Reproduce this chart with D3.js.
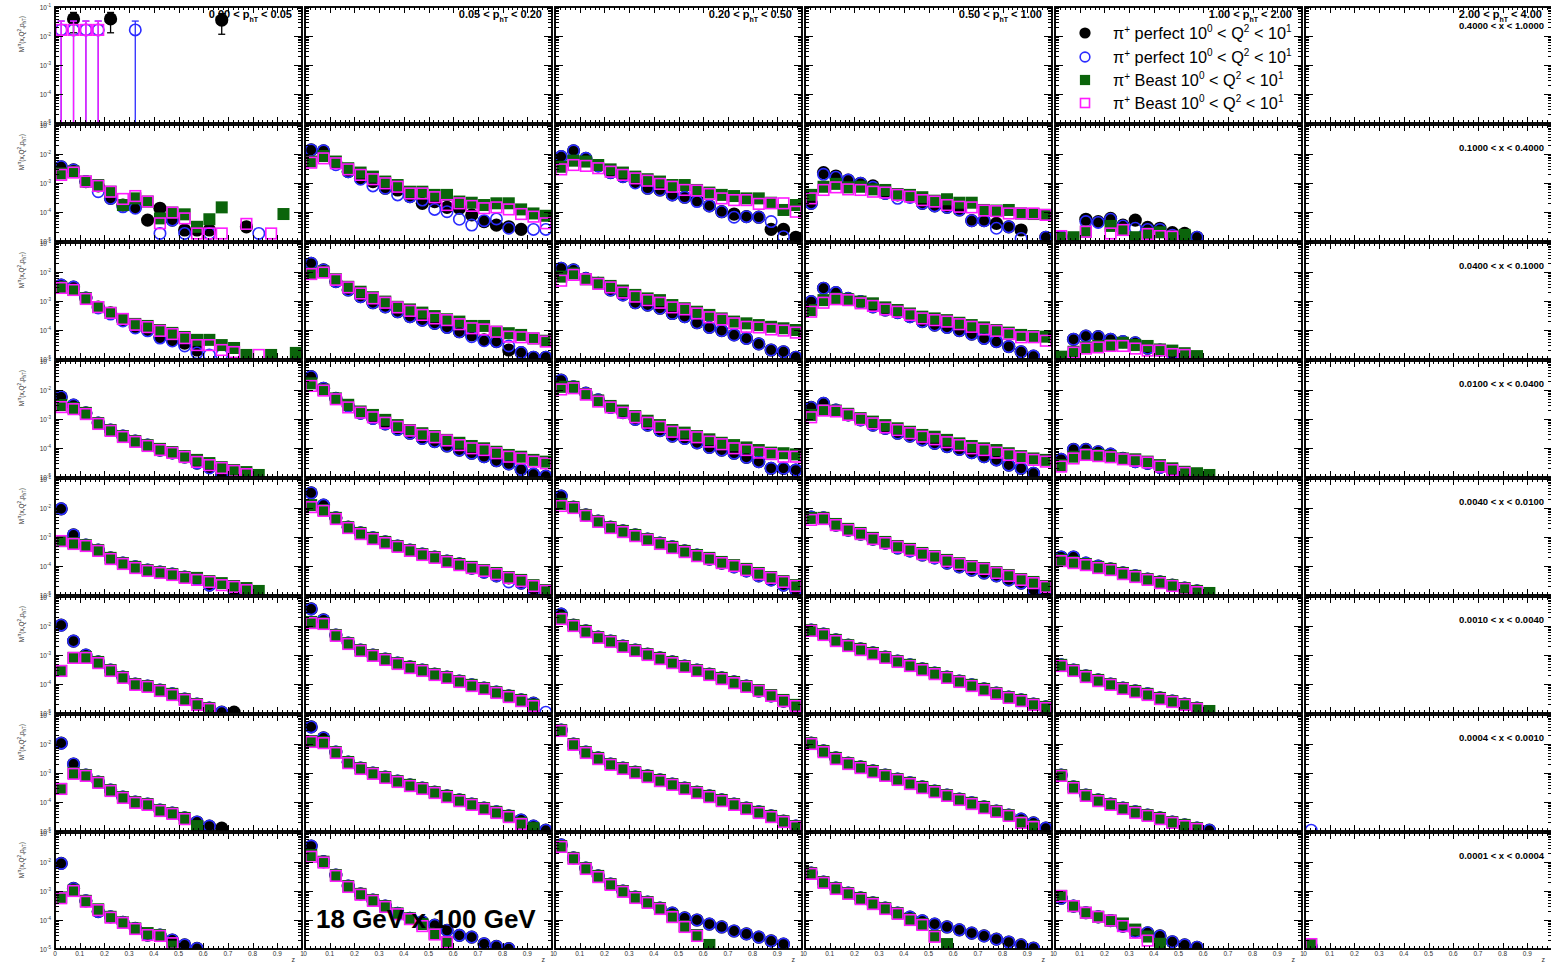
<!DOCTYPE html>
<html>
<head>
<meta charset="utf-8">
<script src="https://d3js.org/d3.v7.min.js"></script>
<style>
body { margin: 0; background: #fff; }
text { font-family: "Liberation Sans", Arial, sans-serif; }
</style>
</head>
<body>
<script>
var N = null;

// z bin centres (20 bins of 0.05)
var zBins = [0.025,0.075,0.125,0.175,0.225,0.275,0.325,0.375,0.425,0.475,
             0.525,0.575,0.625,0.675,0.725,0.775,0.825,0.875,0.925,0.975];

var ptBins = [["0.00","0.05"],["0.05","0.20"],["0.20","0.50"],["0.50","1.00"],["1.00","2.00"],["2.00","4.00"]];
var xBins = ["0.4000 < x < 1.0000","0.1000 < x < 0.4000","0.0400 < x < 0.1000","0.0100 < x < 0.0400",
             "0.0040 < x < 0.0100","0.0010 < x < 0.0040","0.0004 < x < 0.0010","0.0001 < x < 0.0004"];
var yDecades = [-5,-4,-3,-2,-1];
var zLabels = ["0","0.1","0.2","0.3","0.4","0.5","0.6","0.7","0.8","0.9","1"];

// values are log10(M), one list per pT column; null = empty bin
// --- 0.4 < x < 1.0
var x1_perfect  = [[N,-1.41,N,N,-1.41,N,N,N,N,N,N,N,N,-1.45],[],[],[],[],[]];
var x1_perfectO = [[-1.79,-1.79,-1.79,-1.79,N,N,-1.79],[],[],[],[],[]];
var x1_beast    = [[],[],[],[],[],[]];
var x1_beastO   = [[-1.79,-1.79,-1.79,-1.79],[],[],[],[],[]];
// absolute (linear) errors, 0.4 < x < 1.0
var x1_perfectErr  = [N,0.026,N,N,0.026,N,N,N,N,N,N,N,N,0.024];
var x1_perfectOErr = [0.0165,0.0165,0.0165,0.0165,N,N,0.0165];
var x1_beastOErr   = [0.0165,0.0165,0.0165,0.0165];

// --- 0.1 < x < 0.4
var x2_perfect = [
 [-2.44,-2.55,-2.95,-3.10,-3.53,-3.76,-3.84,-4.28,-3.87,-4.28,-4.62,-4.62,-4.62,N,N,-4.51],
 [-1.86,-1.89,-2.30,-2.61,-2.84,-2.95,-3.18,-3.24,-3.47,-3.70,-3.64,-3.84,-3.87,-4.10,-4.33,-4.45,-4.51,-4.60],
 [-2.09,-1.89,-2.15,-2.41,-2.64,-2.78,-2.95,-3.18,-3.24,-3.41,-3.49,-3.59,-3.79,-3.99,-4.07,-4.16,-4.18,-4.60,-4.60,-4.87],
 [-3.70,-2.64,-2.76,-2.90,-3.01,-3.10,-3.36,-3.41,-3.47,-3.70,-3.79,-3.84,-3.93,-4.30,-4.30,-4.39,-4.51,-4.62,N,-4.87],
 [-4.85,N,-4.25,-4.33,-4.22,-4.45,-4.28,-4.53,-4.56,-4.71,-4.74,-4.87],
 []];
var x2_perfectO = [
 [-2.44,-2.55,-2.95,-3.30,-3.53,-3.82,-3.87,N,-4.74,-4.28,-4.74,N,-4.74,N,N,N,-4.74],
 [-1.86,-1.89,-2.37,-2.61,-2.87,-3.10,-3.18,-3.41,-3.47,-3.59,-3.91,-3.99,-4.25,-4.45,-4.30,-4.24,-4.56,N,-4.60,-4.60],
 [-2.09,-1.89,-2.15,-2.41,-2.64,-2.78,-3.00,-3.18,-3.24,-3.41,-3.49,-3.64,-3.79,-3.99,-4.18,-4.16,-4.18,-4.33,-4.85],
 [-3.70,-2.70,-2.80,-2.90,-3.01,-3.15,-3.36,-3.53,-3.50,-3.70,-3.79,-3.84,-3.93,-4.30,-4.30,-4.56,-4.51,-4.91,N,-4.87],
 [-4.85,N,-4.33,-4.36,-4.25,-4.48,-4.56,-4.60,-4.60,-4.80,-4.85,-4.87],
 []];
var x2_beast = [
 [-2.67,-2.61,-2.95,-3.07,-3.30,-3.76,-3.53,-3.64,-4.22,-4.02,-4.08,-4.51,-4.25,-3.84,N,N,N,N,-4.07],
 [-2.26,-2.07,-2.26,-2.49,-2.64,-2.78,-2.95,-3.07,-3.30,-3.30,-3.41,-3.41,-3.64,-3.68,-3.76,-3.70,-3.70,-3.91,-4.05,-4.13],
 [-2.44,-2.23,-2.26,-2.38,-2.53,-2.64,-2.78,-2.87,-2.95,-3.07,-3.07,-3.24,-3.33,-3.41,-3.45,-3.53,-3.53,-3.68,-3.93,-3.76],
 [-3.41,-3.13,-3.03,-3.15,-3.13,-3.22,-3.24,-3.38,-3.41,-3.49,-3.61,-3.56,-3.68,-3.68,-3.93,-3.95,-3.93,-4.05,-4.07,-4.10],
 [-4.90,-4.87,-4.68,N,-4.48,-4.62,-4.87,-4.74,-4.70,-4.85,-4.79],
 []];
var x2_beastO = [
 [-2.72,-2.64,-2.95,-3.10,-3.30,-3.55,-3.45,-3.64,-4.39,-4.02,-4.22,-4.74,-4.74,-4.74,N,-4.41,N,-4.74],
 [-2.30,-2.15,-2.32,-2.53,-2.72,-2.87,-3.01,-3.13,-3.36,-3.36,-3.49,-3.76,-3.70,-3.79,-3.87,-3.84,-3.91,-4.07,-4.16,-4.39],
 [-2.53,-2.38,-2.41,-2.49,-2.61,-2.72,-2.84,-2.92,-3.03,-3.13,-3.24,-3.26,-3.38,-3.53,-3.59,-3.59,-3.72,-3.70,-3.70,-3.99],
 [-3.53,-3.24,-3.15,-3.22,-3.24,-3.30,-3.33,-3.41,-3.47,-3.59,-3.64,-3.76,-3.82,-3.84,-3.95,-3.97,-4.05,-4.05,-4.05,-4.10],
 [-4.83,N,-4.68,N,-4.74,-4.62,N,-4.76,-4.83,-4.85],
 []];

// --- 0.04 < x < 0.1
var x3_perfect = [
 [-2.45,-2.52,-2.90,-3.21,-3.41,-3.66,-3.90,-4.00,-4.24,-4.34,-4.45,-4.69],
 [-1.70,-1.93,-2.33,-2.62,-2.85,-3.06,-3.20,-3.37,-3.54,-3.66,-3.77,-3.91,-4.06,-4.17,-4.34,-4.40,-4.69,-4.78,-4.94,-4.94],
 [-1.87,-1.93,-2.22,-2.39,-2.62,-2.79,-3.06,-3.14,-3.25,-3.43,-3.54,-3.75,-3.91,-4.02,-4.17,-4.29,-4.48,-4.69,-4.75,-4.94],
 [-3.02,-2.56,-2.71,-2.91,-3.02,-3.20,-3.31,-3.40,-3.54,-3.71,-3.83,-3.91,-4.02,-4.14,-4.29,-4.40,-4.57,-4.75,-4.90],
 [N,-4.32,-4.21,-4.23,-4.32,-4.40,-4.44,-4.63,-4.69,-4.80,-4.86,-4.95],
 []];
var x3_perfectO = [
 [-2.45,-2.52,-2.90,-3.24,-3.45,-3.69,-3.93,-4.03,-4.28,-4.38,-4.55,-4.79,-4.86,-4.86],
 [-1.70,-1.93,-2.33,-2.62,-2.85,-3.06,-3.20,-3.37,-3.54,-3.66,-3.77,-3.91,-4.06,-4.23,-4.37,-4.40,-4.55,-4.78,-4.94,-4.94],
 [-1.87,-1.93,-2.22,-2.39,-2.62,-2.79,-3.06,-3.14,-3.25,-3.43,-3.54,-3.75,-3.91,-4.02,-4.17,-4.29,-4.48,-4.69,-4.75,-4.94],
 [-3.02,-2.56,-2.71,-2.91,-3.02,-3.20,-3.31,-3.40,-3.54,-3.71,-3.83,-3.91,-4.02,-4.14,-4.29,-4.40,-4.57,-4.75,-4.90],
 [N,-4.32,-4.21,-4.23,-4.32,-4.40,-4.44,-4.63,-4.69,-4.80,-4.86,-4.95],
 []];
var x3_beast = [
 [-2.52,-2.62,-2.90,-3.21,-3.41,-3.62,-3.79,-3.86,-4.00,-4.10,-4.24,-4.34,-4.34,-4.52,-4.62,-4.86,N,-4.86,N,-4.79],
 [-2.05,-1.99,-2.25,-2.51,-2.68,-2.87,-3.02,-3.20,-3.29,-3.40,-3.52,-3.63,-3.71,-3.86,-3.86,-4.06,-4.11,-4.17,-4.29,-4.37],
 [-2.16,-2.05,-2.25,-2.37,-2.48,-2.64,-2.79,-2.91,-2.97,-3.14,-3.25,-3.37,-3.48,-3.60,-3.71,-3.77,-3.83,-3.89,-3.94,-4.00],
 [-3.31,-2.97,-2.91,-2.94,-3.02,-3.08,-3.22,-3.31,-3.43,-3.54,-3.60,-3.66,-3.75,-3.83,-3.91,-4.00,-4.09,-4.17,-4.21,-4.23],
 [-4.92,-4.75,-4.60,-4.55,-4.52,-4.44,-4.52,-4.55,-4.67,-4.71,-4.80,-4.90],
 []];
var x3_beastO = [
 [-2.55,-2.62,-2.93,-3.21,-3.41,-3.62,-3.82,-3.90,-4.03,-4.14,-4.28,-4.52,-4.52,-4.69,-4.76,N,-4.86],
 [-2.07,-2.02,-2.27,-2.53,-2.74,-2.91,-3.06,-3.22,-3.34,-3.48,-3.60,-3.66,-3.80,-3.94,-3.98,-4.06,-4.23,-4.25,-4.29,-4.40],
 [-2.30,-2.10,-2.25,-2.41,-2.53,-2.71,-2.85,-2.97,-3.06,-3.22,-3.29,-3.43,-3.56,-3.64,-3.77,-3.89,-3.91,-3.98,-4.02,-4.09],
 [-3.37,-3.06,-2.94,-2.97,-3.08,-3.17,-3.29,-3.37,-3.48,-3.60,-3.66,-3.71,-3.80,-3.89,-3.98,-4.03,-4.14,-4.25,-4.25,-4.37],
 [N,-4.78,-4.64,-4.60,-4.55,-4.55,-4.64,-4.71,-4.71,-4.83,-4.86],
 []];

// --- 0.01 < x < 0.04
var x4_perfect = [
 [-2.24,-2.52,-2.79,-3.14,-3.38,-3.59,-3.76,-3.90,-4.07,-4.17,-4.31,-4.52,-4.66,-4.93],
 [-1.54,-1.94,-2.29,-2.55,-2.80,-2.98,-3.17,-3.36,-3.49,-3.67,-3.78,-3.93,-4.07,-4.18,-4.30,-4.44,-4.55,-4.74,-4.90,-4.97],
 [-1.66,-1.89,-2.11,-2.34,-2.60,-2.78,-3.01,-3.21,-3.40,-3.59,-3.67,-3.82,-3.98,-4.07,-4.18,-4.32,-4.47,-4.70,-4.70,-4.76],
 [-2.60,-2.46,-2.69,-2.86,-3.03,-3.21,-3.32,-3.49,-3.59,-3.72,-3.84,-3.95,-4.05,-4.16,-4.30,-4.41,-4.59,-4.70,-4.87],
 [-4.39,-4.05,-4.05,-4.13,-4.21,-4.36,-4.47,-4.53,-4.67,-4.82,-4.93],
 []];
var x4_perfectO = [
 [-2.24,-2.52,-2.79,-3.14,-3.38,-3.59,-3.76,-3.90,-4.07,-4.17,-4.31,-4.52,-4.69,-4.93],
 [-1.54,-1.94,-2.29,-2.55,-2.80,-2.98,-3.17,-3.36,-3.49,-3.67,-3.78,-3.93,-4.07,-4.18,-4.30,-4.44,-4.55,-4.74,-4.90,-4.97],
 [-1.66,-1.89,-2.11,-2.34,-2.60,-2.78,-3.01,-3.21,-3.40,-3.59,-3.67,-3.82,-3.98,-4.07,-4.18,-4.32,-4.47,-4.70,-4.70,-4.76],
 [-2.60,-2.46,-2.69,-2.86,-3.03,-3.21,-3.32,-3.49,-3.59,-3.72,-3.84,-3.95,-4.05,-4.16,-4.30,-4.41,-4.59,-4.70,-4.87],
 [-4.39,-4.05,-4.05,-4.13,-4.21,-4.36,-4.47,-4.53,-4.67,-4.82,-4.93],
 []];
var x4_beast = [
 [-2.52,-2.62,-2.79,-3.14,-3.38,-3.59,-3.76,-3.90,-4.03,-4.14,-4.28,-4.41,-4.52,-4.66,-4.76,-4.83,-4.93],
 [-1.77,-1.99,-2.29,-2.51,-2.74,-2.86,-3.03,-3.21,-3.38,-3.49,-3.59,-3.72,-3.82,-3.93,-4.01,-4.13,-4.24,-4.30,-4.41,-4.47],
 [-1.89,-1.89,-2.14,-2.36,-2.55,-2.71,-2.90,-3.06,-3.21,-3.38,-3.47,-3.59,-3.70,-3.82,-3.90,-3.98,-4.07,-4.16,-4.18,-4.22],
 [-2.86,-2.69,-2.71,-2.82,-2.97,-3.09,-3.21,-3.32,-3.44,-3.55,-3.61,-3.72,-3.84,-3.93,-4.01,-4.07,-4.18,-4.28,-4.36,-4.41],
 [-4.59,-4.30,-4.21,-4.24,-4.28,-4.36,-4.39,-4.47,-4.59,-4.70,-4.82,-4.87,-4.93],
 []];
var x4_beastO = [
 [-2.59,-2.66,-2.83,-3.17,-3.41,-3.62,-3.79,-3.93,-4.07,-4.17,-4.31,-4.48,-4.59,-4.69,-4.79,-4.90],
 [-1.86,-2.02,-2.32,-2.60,-2.78,-2.94,-3.13,-3.27,-3.40,-3.55,-3.63,-3.74,-3.90,-4.01,-4.07,-4.18,-4.30,-4.36,-4.47,-4.53],
 [-1.98,-1.94,-2.16,-2.40,-2.60,-2.78,-2.94,-3.13,-3.27,-3.44,-3.55,-3.63,-3.78,-3.87,-4.01,-4.07,-4.16,-4.21,-4.30,-4.30],
 [-2.94,-2.71,-2.74,-2.86,-3.01,-3.15,-3.29,-3.38,-3.49,-3.61,-3.70,-3.80,-3.90,-4.01,-4.07,-4.16,-4.24,-4.33,-4.41,-4.47],
 [-4.64,-4.36,-4.24,-4.28,-4.32,-4.39,-4.44,-4.50,-4.64,-4.76,-4.86],
 []];

// --- 0.004 < x < 0.01
var x5_perfect = [
 [-2.03,-2.93,-3.28,-3.45,-3.72,-3.90,-4.03,-4.14,-4.21,-4.28,-4.38,-4.45,-4.66,N,-4.83],
 [-1.48,-1.90,-2.34,-2.66,-2.86,-3.03,-3.17,-3.31,-3.45,-3.59,-3.69,-3.83,-3.93,-4.07,-4.21,-4.34,-4.41,-4.59,-4.76,-4.97],
 [-1.59,-1.97,-2.24,-2.45,-2.66,-2.79,-2.93,-3.07,-3.21,-3.34,-3.48,-3.62,-3.76,-3.90,-4.03,-4.17,-4.34,-4.48,-4.66,-4.83],
 [-2.31,-2.34,-2.59,-2.76,-2.90,-3.07,-3.21,-3.38,-3.48,-3.62,-3.72,-3.90,-4.03,-4.14,-4.24,-4.34,-4.48,-4.59,-4.83,-4.90],
 [-3.69,-3.69,-3.90,-4.00,-4.10,-4.24,-4.34,-4.45,-4.55,-4.66,-4.76,-4.86],
 []];
var x5_perfectO = [
 [-2.03,-2.93,-3.28,-3.45,-3.72,-3.90,-4.03,-4.14,-4.21,-4.28,-4.38,-4.45,-4.66,N,-4.86],
 [-1.48,-1.90,-2.34,-2.66,-2.86,-3.03,-3.17,-3.31,-3.45,-3.59,-3.69,-3.83,-3.93,-4.07,-4.21,-4.34,-4.55,-4.59,-4.83,-4.97],
 [-1.59,-1.97,-2.24,-2.45,-2.66,-2.79,-2.93,-3.07,-3.21,-3.34,-3.48,-3.62,-3.76,-3.90,-4.03,-4.17,-4.34,-4.48,-4.66,-4.83],
 [-2.31,-2.34,-2.59,-2.76,-2.90,-3.07,-3.21,-3.38,-3.48,-3.62,-3.72,-3.90,-4.03,-4.14,-4.24,-4.34,-4.48,-4.59,-4.83,-4.90],
 [-3.69,-3.69,-3.90,-4.00,-4.10,-4.24,-4.34,-4.45,-4.55,-4.66,-4.76,-4.86],
 []];
var x5_beast = [
 [-3.14,-3.21,-3.28,-3.45,-3.72,-3.90,-4.03,-4.14,-4.21,-4.28,-4.38,-4.41,-4.52,-4.59,-4.69,-4.76,-4.86],
 [-1.90,-2.07,-2.34,-2.66,-2.86,-3.03,-3.17,-3.31,-3.45,-3.59,-3.69,-3.83,-3.93,-4.03,-4.14,-4.24,-4.38,-4.48,-4.66,-4.83],
 [-1.86,-1.97,-2.24,-2.45,-2.66,-2.79,-2.93,-3.07,-3.21,-3.34,-3.48,-3.62,-3.72,-3.86,-3.97,-4.10,-4.24,-4.38,-4.52,-4.66],
 [-2.34,-2.34,-2.55,-2.72,-2.86,-3.03,-3.17,-3.31,-3.41,-3.55,-3.66,-3.79,-3.90,-4.00,-4.07,-4.21,-4.31,-4.45,-4.55,-4.69],
 [-3.79,-3.86,-3.93,-4.03,-4.10,-4.24,-4.34,-4.45,-4.55,-4.66,-4.76,-4.86,-4.93],
 []];
var x5_beastO = [
 [-3.14,-3.24,-3.31,-3.48,-3.76,-3.93,-4.07,-4.17,-4.24,-4.31,-4.41,-4.48,-4.55,-4.66,-4.72,-4.83],
 [-1.97,-2.10,-2.38,-2.69,-2.90,-3.07,-3.21,-3.34,-3.48,-3.62,-3.72,-3.86,-3.97,-4.07,-4.17,-4.28,-4.41,-4.52,-4.69,-4.86],
 [-1.93,-2.00,-2.27,-2.48,-2.69,-2.83,-2.97,-3.10,-3.24,-3.38,-3.52,-3.66,-3.76,-3.90,-4.00,-4.14,-4.28,-4.41,-4.55,-4.69],
 [-2.41,-2.38,-2.59,-2.76,-2.90,-3.07,-3.21,-3.34,-3.45,-3.59,-3.69,-3.83,-3.93,-4.03,-4.10,-4.24,-4.34,-4.48,-4.59,-4.72],
 [-3.83,-3.90,-3.97,-4.07,-4.14,-4.28,-4.38,-4.48,-4.59,-4.69,-4.79,-4.90],
 []];

// --- 0.001 < x < 0.004
var x6_perfect = [
 [-1.97,-2.52,-3.00,-3.24,-3.52,-3.76,-4.00,-4.07,-4.21,-4.34,-4.52,-4.69,-4.83,-4.97,-4.97],
 [-1.41,-1.79,-2.31,-2.59,-2.83,-3.00,-3.14,-3.28,-3.41,-3.52,-3.66,-3.76,-3.90,-4.03,-4.14,-4.28,-4.41,-4.55,-4.66],
 [-1.59,-1.97,-2.17,-2.38,-2.52,-2.69,-2.83,-2.97,-3.10,-3.24,-3.38,-3.52,-3.66,-3.79,-3.93,-4.07,-4.24,-4.41,-4.59,-4.79],
 [-2.14,-2.28,-2.48,-2.66,-2.79,-2.93,-3.07,-3.21,-3.34,-3.48,-3.62,-3.76,-3.90,-4.03,-4.17,-4.31,-4.45,-4.55,-4.69,-4.79],
 [-3.34,-3.52,-3.72,-3.86,-4.00,-4.14,-4.24,-4.34,-4.48,-4.59,-4.69,-4.83],
 []];
var x6_perfectO = [
 [-1.97,-2.52,-3.00,-3.24,-3.52,-3.76,-4.00,-4.07,-4.21,-4.34,-4.52,-4.69,-4.83,-4.97],
 [-1.41,-1.79,-2.31,-2.59,-2.83,-3.00,-3.14,-3.28,-3.41,-3.52,-3.66,-3.76,-3.90,-4.03,-4.14,-4.28,-4.41,-4.55,-4.66,-4.97],
 [-1.59,-1.97,-2.17,-2.38,-2.52,-2.69,-2.83,-2.97,-3.10,-3.24,-3.38,-3.52,-3.66,-3.79,-3.93,-4.07,-4.24,-4.41,-4.59,-4.79],
 [-2.14,-2.28,-2.48,-2.66,-2.79,-2.93,-3.07,-3.21,-3.34,-3.48,-3.62,-3.76,-3.90,-4.03,-4.17,-4.31,-4.45,-4.55,-4.69,-4.79],
 [-3.34,-3.52,-3.72,-3.86,-4.00,-4.14,-4.24,-4.34,-4.48,-4.59,-4.69,-4.83],
 []];
var x6_beast = [
 [-3.55,-3.10,-3.07,-3.24,-3.52,-3.76,-4.00,-4.07,-4.21,-4.34,-4.52,-4.69,-4.83],
 [-1.86,-1.90,-2.31,-2.59,-2.83,-3.00,-3.14,-3.28,-3.41,-3.52,-3.66,-3.76,-3.90,-4.03,-4.14,-4.28,-4.41,-4.55,-4.72],
 [-1.72,-1.97,-2.17,-2.38,-2.52,-2.69,-2.83,-2.97,-3.10,-3.24,-3.38,-3.52,-3.66,-3.79,-3.93,-4.07,-4.21,-4.38,-4.55,-4.72],
 [-2.14,-2.28,-2.48,-2.66,-2.79,-2.93,-3.07,-3.21,-3.34,-3.48,-3.62,-3.76,-3.90,-4.03,-4.17,-4.31,-4.45,-4.55,-4.69,-4.79],
 [-3.34,-3.52,-3.72,-3.86,-4.00,-4.14,-4.24,-4.34,-4.48,-4.59,-4.69,-4.83,-4.93],
 []];
var x6_beastO = [
 [-3.55,-3.10,-3.10,-3.28,-3.55,-3.79,-4.03,-4.10,-4.24,-4.38,-4.55,-4.72,-4.86],
 [-1.90,-1.93,-2.34,-2.62,-2.86,-3.03,-3.17,-3.31,-3.45,-3.55,-3.69,-3.79,-3.93,-4.07,-4.17,-4.31,-4.45,-4.59,-4.76],
 [-1.76,-2.00,-2.21,-2.41,-2.55,-2.72,-2.86,-3.00,-3.14,-3.28,-3.41,-3.55,-3.69,-3.83,-3.97,-4.10,-4.24,-4.41,-4.59,-4.76],
 [-2.17,-2.31,-2.52,-2.69,-2.83,-2.97,-3.10,-3.24,-3.38,-3.52,-3.66,-3.79,-3.93,-4.07,-4.21,-4.34,-4.48,-4.59,-4.72,-4.83],
 [-3.38,-3.55,-3.76,-3.90,-4.03,-4.17,-4.28,-4.38,-4.52,-4.62,-4.72,-4.86],
 []];

// --- 0.0004 < x < 0.001
var x7_perfect = [
 [-1.97,-2.69,-3.07,-3.31,-3.59,-3.83,-4.00,-4.07,-4.28,-4.38,-4.55,-4.69,-4.83,-4.90],
 [-1.41,-1.79,-2.28,-2.62,-2.83,-3.00,-3.14,-3.28,-3.41,-3.52,-3.66,-3.79,-3.93,-4.07,-4.21,-4.34,-4.48,-4.62,-4.83,-4.97],
 [-1.52,-2.00,-2.28,-2.48,-2.69,-2.83,-2.97,-3.10,-3.24,-3.38,-3.52,-3.66,-3.79,-3.93,-4.07,-4.21,-4.34,-4.48,-4.66,-4.83],
 [-1.97,-2.24,-2.48,-2.66,-2.79,-2.93,-3.07,-3.21,-3.34,-3.48,-3.62,-3.76,-3.90,-4.03,-4.17,-4.31,-4.45,-4.59,-4.72,-4.90],
 [-3.07,-3.48,-3.76,-3.93,-4.07,-4.21,-4.34,-4.45,-4.55,-4.69,-4.79,-4.90,-4.97],
 []];
var x7_perfectO = [
 [-1.97,-2.69,-3.07,-3.31,-3.59,-3.83,-4.00,-4.07,-4.28,-4.38,-4.55,-4.69,-4.83],
 [-1.41,-1.79,-2.28,-2.62,-2.83,-3.00,-3.14,-3.28,-3.41,-3.52,-3.66,-3.79,-3.93,-4.07,-4.21,-4.34,-4.48,-4.62,-4.83,-4.97],
 [-1.52,-2.00,-2.28,-2.48,-2.69,-2.83,-2.97,-3.10,-3.24,-3.38,-3.52,-3.66,-3.79,-3.93,-4.07,-4.21,-4.34,-4.48,-4.66,-4.83],
 [-1.97,-2.24,-2.48,-2.66,-2.79,-2.93,-3.07,-3.21,-3.34,-3.48,-3.62,-3.76,-3.90,-4.03,-4.17,-4.31,-4.45,-4.59,-4.72,-4.90],
 [-3.07,-3.48,-3.76,-3.93,-4.07,-4.21,-4.34,-4.45,-4.55,-4.69,-4.79,-4.90,-4.97],
 [-4.97]];
var x7_beast = [
 [-3.55,-3.00,-3.07,-3.31,-3.59,-3.83,-4.00,-4.07,-4.28,-4.38,-4.55,-4.83],
 [-1.90,-1.93,-2.28,-2.62,-2.83,-3.00,-3.14,-3.28,-3.41,-3.52,-3.66,-3.79,-3.93,-4.07,-4.21,-4.34,-4.48,-4.72,-4.90],
 [-1.52,-2.00,-2.28,-2.48,-2.69,-2.83,-2.97,-3.10,-3.24,-3.38,-3.52,-3.66,-3.79,-3.93,-4.07,-4.21,-4.34,-4.48,-4.66,-4.83],
 [-1.97,-2.24,-2.48,-2.66,-2.79,-2.93,-3.07,-3.21,-3.34,-3.48,-3.62,-3.76,-3.90,-4.03,-4.17,-4.31,-4.45,-4.69,-4.83],
 [-3.07,-3.48,-3.76,-3.93,-4.07,-4.21,-4.34,-4.45,-4.55,-4.69,-4.79,-4.90],
 []];
var x7_beastO = [
 [-3.55,-3.03,-3.10,-3.34,-3.62,-3.86,-4.03,-4.10,-4.31,-4.41,-4.59],
 [-1.93,-1.97,-2.31,-2.66,-2.86,-3.03,-3.17,-3.31,-3.45,-3.55,-3.69,-3.83,-3.97,-4.10,-4.24,-4.38,-4.52,-4.76],
 [-1.55,-2.03,-2.31,-2.52,-2.72,-2.86,-3.00,-3.14,-3.28,-3.41,-3.55,-3.69,-3.83,-3.97,-4.10,-4.24,-4.38,-4.52,-4.69,-4.86],
 [-2.00,-2.28,-2.52,-2.69,-2.83,-2.97,-3.10,-3.24,-3.38,-3.52,-3.66,-3.79,-3.93,-4.07,-4.21,-4.34,-4.48,-4.72,-4.86],
 [-3.10,-3.52,-3.79,-3.97,-4.10,-4.24,-4.38,-4.48,-4.59,-4.72,-4.83,-4.93],
 []];

// --- 0.0001 < x < 0.0004
var x8_perfect = [
 [-2.05,-2.91,-3.34,-3.71,-3.89,-4.08,-4.29,-4.52,-4.52,-4.69,-4.86,-4.98],
 [-1.45,-1.99,-2.45,-2.83,-3.10,-3.31,-3.52,-3.77,-3.94,-4.06,-4.18,-4.36,-4.53,-4.59,-4.82,-4.91,-4.99],
 [-1.41,-1.86,-2.21,-2.48,-2.76,-3.00,-3.21,-3.38,-3.59,-3.76,-3.93,-4.00,-4.14,-4.24,-4.38,-4.48,-4.59,-4.72,-4.83],
 [-2.38,-2.69,-2.90,-3.07,-3.24,-3.41,-3.59,-3.76,-3.90,-4.03,-4.14,-4.24,-4.34,-4.45,-4.55,-4.66,-4.76,-4.86,-4.97],
 [-3.25,-3.52,-3.75,-3.89,-4.02,-4.21,-4.40,-4.44,-4.55,-4.75,-4.86,-4.94],
 [-4.97]];
var x8_perfectO = [
 [-2.05,-2.91,-3.34,-3.71,-3.89,-4.08,-4.29,-4.52,-4.52,-4.69,-4.86,-4.98],
 [-1.45,-1.99,-2.45,-2.83,-3.10,-3.31,-3.52,-3.77,-3.94,-4.06,-4.18,-4.36,-4.53,-4.59,-4.82,-4.91,-4.99],
 [-1.41,-1.86,-2.21,-2.48,-2.76,-3.00,-3.21,-3.38,-3.59,-3.76,-3.93,-4.00,-4.14,-4.24,-4.38,-4.48,-4.59,-4.72,-4.83],
 [-2.38,-2.69,-2.90,-3.07,-3.24,-3.41,-3.59,-3.76,-3.90,-4.03,-4.14,-4.24,-4.34,-4.45,-4.55,-4.66,-4.76,-4.86,-4.97],
 [-3.25,-3.52,-3.75,-3.89,-4.02,-4.21,-4.40,-4.44,-4.55,-4.75,-4.86,-4.94],
 [-4.90]];
var x8_beast = [
 [-3.22,-2.98,-3.34,-3.63,-3.89,-4.08,-4.29,-4.45,-4.52,-4.92],
 [-1.76,-1.99,-2.45,-2.83,-3.10,-3.31,-3.52,-3.77,-3.94,-4.14,-4.47,-4.77],
 [-1.45,-1.86,-2.21,-2.48,-2.76,-3.00,-3.21,-3.38,-3.59,-3.86,-4.21,-4.52,-4.86],
 [-2.38,-2.69,-2.90,-3.07,-3.24,-3.41,-3.59,-3.76,-3.97,-4.14,-4.55,-4.83],
 [-3.17,-3.52,-3.75,-3.89,-4.02,-4.12,-4.33,-4.57,-4.82],
 [-4.83]];
var x8_beastO = [
 [-3.25,-3.00,-3.37,-3.66,-3.92,-4.10,-4.31,-4.52,-4.55,-4.80],
 [-1.82,-2.02,-2.48,-2.86,-3.13,-3.34,-3.55,-3.80,-3.97,-4.21,-4.50,-4.77],
 [-1.48,-1.89,-2.24,-2.52,-2.79,-3.03,-3.24,-3.41,-3.62,-3.90,-4.24,-4.55],
 [-2.41,-2.72,-2.93,-3.10,-3.28,-3.45,-3.62,-3.79,-4.00,-4.17,-4.58],
 [-3.17,-3.52,-3.75,-3.89,-4.02,-4.21,-4.44,-4.71],
 [-4.83]];

var legendLabels = ["perfect","perfect","Beast","Beast"];

// ---------------------------------------------------------------
var W = 1551, H = 963;
var pw = 247, ph = 116;
var colX = function(c) { return 55 + 250 * c; };
var rowY = function(r) { return 7 + 118 * r; };

var rows = [
  [x1_perfect, x1_perfectO, x1_beast, x1_beastO],
  [x2_perfect, x2_perfectO, x2_beast, x2_beastO],
  [x3_perfect, x3_perfectO, x3_beast, x3_beastO],
  [x4_perfect, x4_perfectO, x4_beast, x4_beastO],
  [x5_perfect, x5_perfectO, x5_beast, x5_beastO],
  [x6_perfect, x6_perfectO, x6_beast, x6_beastO],
  [x7_perfect, x7_perfectO, x7_beast, x7_beastO],
  [x8_perfect, x8_perfectO, x8_beast, x8_beastO]
];
var row1Err = [x1_perfectErr, x1_perfectOErr, N, x1_beastOErr];

var styles = [
  { shape: "circle", fill: "#000", stroke: "none", color: "#000" },
  { shape: "circle", fill: "none", stroke: "#2b2bff", color: "#2b2bff" },
  { shape: "square", fill: "#0b640b", stroke: "none", color: "#0b640b" },
  { shape: "square", fill: "none", stroke: "#ff1aff", color: "#ff1aff" }
];

var x = d3.scaleLinear().domain([0, 1]).range([0, pw]);
var y = d3.scaleLog().domain([1e-5, 1e-1]).range([ph, 0]);

var svg = d3.select("body").append("svg")
    .attr("width", W)
    .attr("height", H);

svg.append("rect").attr("width", W).attr("height", H).attr("fill", "#fff");

svg.append("defs").append("clipPath").attr("id", "pad")
  .append("rect").attr("x", 0).attr("y", 0).attr("width", pw).attr("height", ph);

function marker(g, st, cx, cy, s) {
  s = s || 1;
  if (st.shape === "circle") {
    if (st.fill !== "none")
      g.append("circle").attr("cx", cx).attr("cy", cy).attr("r", 6.6 * s).attr("fill", st.fill);
    else
      g.append("circle").attr("cx", cx).attr("cy", cy).attr("r", 5.7 * s)
        .attr("fill", "none").attr("stroke", st.stroke).attr("stroke-width", 1.6);
  } else {
    var a = (st.fill !== "none" ? 6.0 : 5.3) * s;
    var sq = g.append("rect").attr("x", cx - a).attr("y", cy - a).attr("width", 2 * a).attr("height", 2 * a);
    if (st.fill !== "none") sq.attr("fill", st.fill);
    else sq.attr("fill", "none").attr("stroke", st.stroke).attr("stroke-width", 1.6);
  }
}

rows.forEach(function(series, r) {
  for (var c = 0; c < 6; c++) {
    var g = svg.append("g").attr("transform", "translate(" + colX(c) + "," + rowY(r) + ")");
    g.append("rect").attr("width", pw).attr("height", ph).attr("fill", "#fff");

    var pg = g.append("g").attr("clip-path", "url(#pad)");
    series.forEach(function(s, si) {
      var vals = s[c] || [];
      var st = styles[si];
      var errs = (r === 0 && c === 0) ? row1Err[si] : null;
      vals.forEach(function(v, k) {
        if (v === null || v === undefined) return;
        var val = Math.pow(10, v);
        var cx = x(zBins[k]), cy = y(val);
        if (errs && errs[k]) {
          var lo = val - errs[k], hi = val + errs[k];
          var ylo = lo > 1e-5 ? y(lo) : ph + 2, yhi = y(hi);
          pg.append("line").attr("x1", cx).attr("x2", cx).attr("y1", ylo).attr("y2", yhi)
            .attr("stroke", st.color).attr("stroke-width", 1.3);
          pg.append("line").attr("x1", cx - 3.5).attr("x2", cx + 3.5).attr("y1", yhi).attr("y2", yhi)
            .attr("stroke", st.color).attr("stroke-width", 1.3);
          if (lo > 1e-5)
            pg.append("line").attr("x1", cx - 3.5).attr("x2", cx + 3.5).attr("y1", ylo).attr("y2", ylo)
              .attr("stroke", st.color).attr("stroke-width", 1.3);
        }
        marker(pg, st, cx, cy);
      });
    });

    // ticks: y (log) on both sides, z on top and bottom
    var tg = g.append("g").attr("stroke", "#000").attr("stroke-width", 1);
    y.ticks().forEach(function(t) {
      var lg = Math.log10(t);
      var major = Math.abs(lg - Math.round(lg)) < 1e-9;
      var len = major ? 8 : 4;
      var yy = Math.round(y(t)) + 0.5;
      tg.append("line").attr("x1", 0).attr("x2", len).attr("y1", yy).attr("y2", yy);
      tg.append("line").attr("x1", pw).attr("x2", pw - len).attr("y1", yy).attr("y2", yy);
    });
    x.ticks(50).forEach(function(t) {
      var major = Math.abs(t * 10 - Math.round(t * 10)) < 1e-9;
      var len = major ? 6 : 3;
      var xx = Math.round(x(t)) + 0.5;
      tg.append("line").attr("x1", xx).attr("x2", xx).attr("y1", ph).attr("y2", ph - len);
      tg.append("line").attr("x1", xx).attr("x2", xx).attr("y1", 0).attr("y2", len);
    });

    g.append("rect").attr("width", pw).attr("height", ph)
      .attr("fill", "none").attr("stroke", "#000").attr("stroke-width", 1.9);

    // y labels on the first column
    if (c === 0) {
      yDecades.forEach(function(d) {
        var t = g.append("text").attr("x", -4).attr("y", y(Math.pow(10, d)) + 2.5)
          .attr("text-anchor", "end").attr("font-size", 6.5).attr("fill", "#333");
        t.append("tspan").text("10");
        t.append("tspan").attr("font-size", 4.5).attr("dy", -3).text(String(d));
      });
      var tt = g.append("text").attr("transform", "translate(-31,9) rotate(-90)")
        .attr("text-anchor", "end").attr("font-size", 6.5).attr("fill", "#333");
      tt.append("tspan").text("M");
      tt.append("tspan").attr("font-size", 4.5).attr("dy", -3).text("\u03c0");
      tt.append("tspan").attr("dy", 3).text("(x,Q");
      tt.append("tspan").attr("font-size", 4.5).attr("dy", -3).text("2");
      tt.append("tspan").attr("dy", 3).text(",p");
      tt.append("tspan").attr("font-size", 4.5).attr("dy", 2).text("hT");
      tt.append("tspan").attr("dy", -2).text(")");
    }
    // z labels on the bottom row
    if (r === rows.length - 1) {
      zLabels.forEach(function(lb, i) {
        var lx = x(i / 10);
        if (colX(c) + lx + 3 > W) return;
        g.append("text").attr("x", lx).attr("y", ph + 6.5)
          .attr("text-anchor", "middle").attr("font-size", 6.5).attr("fill", "#333").text(lb);
      });
      g.append("text").attr("x", pw - 7).attr("y", ph + 13).attr("text-anchor", "end")
        .attr("font-size", 7).attr("fill", "#333").text("z");
    }
    // pT bin title on top row
    if (r === 0) {
      var pt = g.append("text").attr("x", pw - 10).attr("y", 11).attr("text-anchor", "end")
        .attr("font-size", 11).attr("font-weight", "bold").attr("fill", "#000");
      pt.append("tspan").text(ptBins[c][0] + " < p");
      pt.append("tspan").attr("font-size", 7).attr("dy", 4).text("hT");
      pt.append("tspan").attr("dy", -4).text(" < " + ptBins[c][1]);
    }
    // x bin label on last column
    if (c === 5) {
      g.append("text").attr("x", pw - 8).attr("y", r === 0 ? 22 : 26).attr("text-anchor", "end")
        .attr("font-size", 9.5).attr("font-weight", "bold").attr("fill", "#000").text(xBins[r]);
    }
  }
});

// legend in the x-bin 1 / pT 1.00-2.00 pad
var lg = svg.append("g");
var legY = [33, 57, 80, 103];
styles.forEach(function(st, i) {
  marker(lg, st, 1085, legY[i], 0.85);
  var t = lg.append("text").attr("x", 1113).attr("y", legY[i] + 6).attr("font-size", 16.3).attr("fill", "#000");
  t.append("tspan").text("\u03c0");
  t.append("tspan").attr("font-size", 10).attr("dy", -6).text("+");
  t.append("tspan").attr("dy", 6).text(" " + legendLabels[i] + " 10");
  t.append("tspan").attr("font-size", 10).attr("dy", -7).text("0");
  t.append("tspan").attr("dy", 7).text(" < Q");
  t.append("tspan").attr("font-size", 10).attr("dy", -7).text("2");
  t.append("tspan").attr("dy", 7).text(" < 10");
  t.append("tspan").attr("font-size", 10).attr("dy", -7).text("1");
});

svg.append("text").attr("x", 316).attr("y", 928)
  .attr("font-size", 26).attr("font-weight", "bold").attr("fill", "#000")
  .text("18 GeV x 100 GeV");
</script>
</body>
</html>
